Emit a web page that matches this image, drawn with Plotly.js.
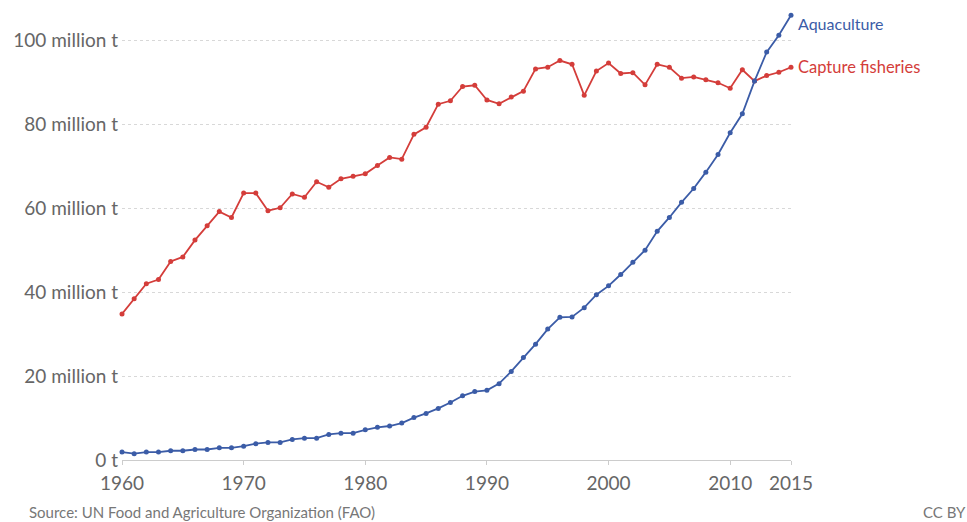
<!DOCTYPE html>
<html>
<head>
<meta charset="utf-8">
<script src="https://cdn.plot.ly/plotly-3.0.1.min.js"></script>
<style>
html,body{margin:0;padding:0;background:#fff;}
#chart{width:967px;height:522px;}
</style>
</head>
<body>
<div id="chart"></div>
<script>
const years = [];
for (let y = 1960; y <= 2015; y++) years.push(y);

const captureFisheries = [
  34.8, 38.4, 42.0, 43.0, 47.3, 48.4, 52.4, 55.8, 59.2, 57.8,
  63.6, 63.6, 59.4, 60.1, 63.4, 62.6, 66.3, 65.0, 67.0, 67.6,
  68.2, 70.2, 72.1, 71.7, 77.6, 79.3, 84.8, 85.6, 89.0, 89.3,
  85.8, 84.9, 86.5, 87.9, 93.2, 93.6, 95.2, 94.3, 86.9, 92.7,
  94.6, 92.1, 92.3, 89.4, 94.3, 93.6, 91.0, 91.3, 90.6, 89.9,
  88.6, 93.0, 90.3, 91.6, 92.4, 93.6
];

const aquaculture = [
  1.9, 1.5, 1.9, 1.9, 2.2, 2.2, 2.5, 2.5, 2.9, 2.9,
  3.3, 3.9, 4.2, 4.2, 4.9, 5.2, 5.2, 6.1, 6.4, 6.4,
  7.2, 7.8, 8.1, 8.8, 10.1, 11.1, 12.3, 13.7, 15.3, 16.3,
  16.6, 18.2, 21.1, 24.4, 27.6, 31.2, 34.0, 34.1, 36.3, 39.4,
  41.5, 44.2, 47.1, 50.0, 54.5, 57.8, 61.4, 64.7, 68.6, 72.8,
  78.0, 82.5, 90.3, 97.2, 101.2, 106.0
];

const yTickVals = [0, 20, 40, 60, 80, 100];
const yTickText = ["0 t", "20 million t", "40 million t", "60 million t", "80 million t", "100 million t"];
const xTickVals = [1960, 1970, 1980, 1990, 2000, 2010, 2015];

const blue = "#3b5ca7";
const red = "#d43d3a";
const fontFamily = "Lato, 'Open Sans', sans-serif";

const traces = [
  {
    x: years, y: captureFisheries, type: "scatter", mode: "lines+markers",
    name: "Capture fisheries",
    line: {color: red, width: 1.8},
    marker: {color: red, size: 5},
    cliponaxis: false
  },
  {
    x: years, y: aquaculture, type: "scatter", mode: "lines+markers",
    name: "Aquaculture",
    line: {color: blue, width: 1.8},
    marker: {color: blue, size: 5},
    cliponaxis: false
  }
];

const layout = {
  width: 967, height: 522,
  margin: {l: 122, r: 176, t: 11, b: 62},
  paper_bgcolor: "#fff", plot_bgcolor: "#fff",
  showlegend: false,
  font: {family: fontFamily, color: "#666"},
  xaxis: {
    range: [1960, 2015],
    tickvals: xTickVals,
    ticktext: xTickVals.map(String),
    showgrid: false, zeroline: false,
    showline: true, linecolor: "#ccc", linewidth: 1,
    ticks: "outside", ticklen: 4, tickcolor: "#ccc",
    ticklabelstandoff: 2,
    tickfont: {size: 19, color: "#666", family: fontFamily},
    fixedrange: true
  },
  yaxis: {
    range: [0, 107],
    tickvals: yTickVals,
    ticktext: yTickText,
    showgrid: true, gridcolor: "#d8d8d8", griddash: "dot", gridwidth: 1,
    zeroline: false, showline: false, ticks: "",
    ticklabelstandoff: 3,
    tickfont: {size: 19, color: "#666", family: fontFamily},
    fixedrange: true
  },
  annotations: [
    {xref: "x", yref: "y", x: 2015, y: aquaculture[aquaculture.length - 1],
     text: "Aquaculture", showarrow: false, xanchor: "left", yanchor: "middle",
     xshift: 5, yshift: -8, font: {size: 16, color: blue, family: fontFamily}},
    {xref: "x", yref: "y", x: 2015, y: captureFisheries[captureFisheries.length - 1],
     text: "Capture fisheries", showarrow: false, xanchor: "left", yanchor: "middle",
     xshift: 5, font: {size: 16.5, color: red, family: fontFamily}},
    {xref: "paper", yref: "paper", x: -0.142, y: -0.14, xanchor: "left", yanchor: "bottom",
     text: "Source: UN Food and Agriculture Organization (FAO)", showarrow: false,
     font: {size: 15, color: "#777", family: fontFamily}},
    {xref: "paper", yref: "paper", x: 1.264, y: -0.14, xanchor: "right", yanchor: "bottom",
     text: "CC BY", showarrow: false,
     font: {size: 15, color: "#777", family: fontFamily}}
  ]
};

Plotly.newPlot("chart", traces, layout, {displayModeBar: false, staticPlot: true});
</script>
</body>
</html>
